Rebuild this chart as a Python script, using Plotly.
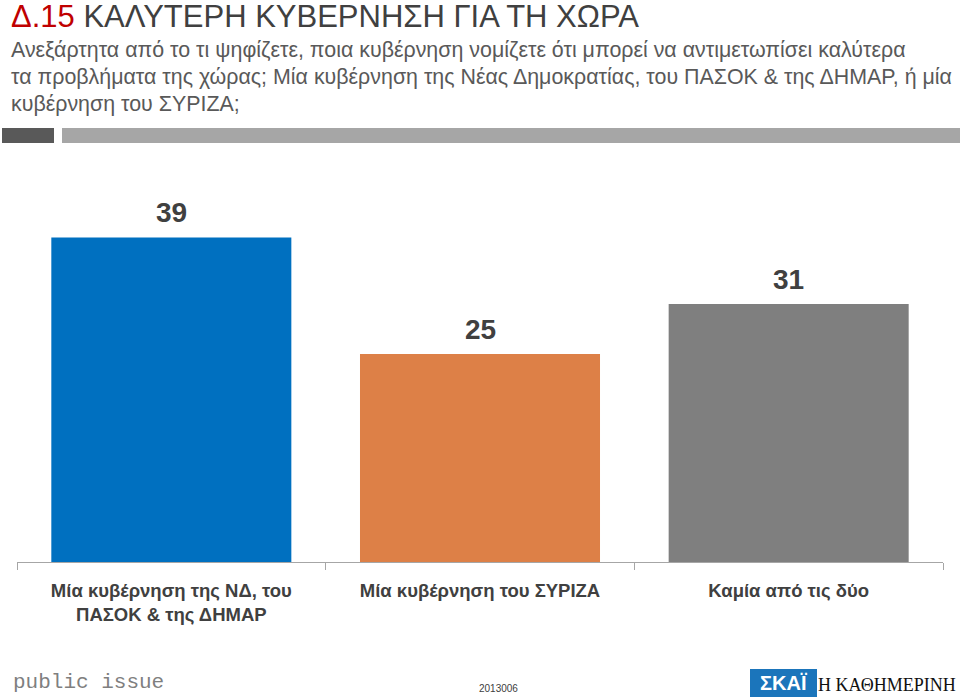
import plotly.graph_objects as go

categories = ["Μία κυβέρνηση της ΝΔ, του<br>ΠΑΣΟΚ & της ΔΗΜΑΡ", "Μία κυβέρνηση του ΣΥΡΙΖΑ", "Καμία από τις δύο"]
values = [39, 25, 31]
colors = ["#0070C0", "#DD8047", "#7F7F7F"]

title_code = "Δ.15"
title_text = "ΚΑΛΥΤΕΡΗ ΚΥΒΕΡΝΗΣΗ ΓΙΑ ΤΗ ΧΩΡΑ"
subtitle_lines = [
    "Ανεξάρτητα από το τι ψηφίζετε, ποια κυβέρνηση νομίζετε ότι μπορεί να αντιμετωπίσει καλύτερα",
    "τα προβλήματα της χώρας; Μία κυβέρνηση της Νέας Δημοκρατίας, του ΠΑΣΟΚ & της ΔΗΜΑΡ, ή μία",
    "κυβέρνηση του ΣΥΡΙΖΑ;",
]
footer_left = "public issue"
footer_code = "2013006"

W, H = 960, 700
L, R, T, B = 17, 17, 180, 138
PW, PH = W - L - R, H - T - B
YMAX = PH / 8.32

def px(x):
    return (x - L) / PW

def py(y):
    return (H - B - y) / PH

FONT = "Liberation Sans, Arial, sans-serif"
TXT = "#404040"

fig = go.Figure()
fig.add_trace(go.Bar(
    x=categories, y=values, marker=dict(color=colors, line=dict(width=0)),
    cliponaxis=False, width=0.7776, hoverinfo="x+y",
))

annotations = []
for c, v in zip(categories, values):
    annotations.append(dict(
        x=c, y=v, xref="x", yref="y", xanchor="center", yanchor="middle", yshift=25,
        text=str(v), showarrow=False, font=dict(family=FONT, size=28, color=TXT, weight="bold"),
    ))
annotations.append(dict(
    x=px(9), y=py(16), xref="paper", yref="paper", xanchor="left", yanchor="middle",
    text=f"<span style='color:#C00000'>{title_code}</span> {title_text}",
    showarrow=False, font=dict(family=FONT, size=31, color=TXT),
))
for i, line in enumerate(subtitle_lines):
    annotations.append(dict(
        x=px(9), y=py(50 + 27 * i), xref="paper", yref="paper", xanchor="left", yanchor="middle",
        text=line, showarrow=False, font=dict(family=FONT, size=21.4, color="#595959"),
    ))
annotations.append(dict(
    x=px(11), y=py(682), xref="paper", yref="paper", xanchor="left", yanchor="middle",
    text=footer_left, showarrow=False,
    font=dict(family="Liberation Mono, DejaVu Sans Mono, monospace", size=21, color="#7F7F7F"),
))
annotations.append(dict(
    x=px(499), y=py(688), xref="paper", yref="paper", xanchor="center", yanchor="middle",
    text=footer_code, showarrow=False, font=dict(family=FONT, size=10, color=TXT),
))
annotations.append(dict(
    x=px(783), y=py(683), xref="paper", yref="paper", xanchor="center", yanchor="middle",
    text="<b>ΣΚΑΪ</b>", showarrow=False, font=dict(family=FONT, size=20, color="#FFFFFF"),
))
annotations.append(dict(
    x=px(958), y=py(685), xref="paper", yref="paper", xanchor="right", yanchor="middle",
    text="Η ΚΑΘΗΜΕΡΙΝΗ", showarrow=False, font=dict(family="Liberation Serif, serif", size=18, color="#111111"),
))

shapes = [
    dict(type="rect", xref="paper", yref="paper", x0=px(2), x1=px(54), y0=py(128), y1=py(143),
         fillcolor="#595959", line=dict(width=0)),
    dict(type="rect", xref="paper", yref="paper", x0=px(62), x1=px(960), y0=py(128), y1=py(143),
         fillcolor="#A6A6A6", line=dict(width=0)),
    dict(type="rect", xref="paper", yref="paper", x0=px(750), x1=px(817), y0=py(669), y1=py(697),
         fillcolor="#1B75BB", line=dict(width=0)),
]

fig.update_layout(
    width=W, height=H, margin=dict(l=L, r=R, t=T, b=B, pad=0),
    paper_bgcolor="white", plot_bgcolor="white", showlegend=False,
    annotations=annotations, shapes=shapes,
    xaxis=dict(range=[-0.5, 2.5], showline=True, linecolor="#A6A6A6", linewidth=1, ticks="outside",
               tickson="boundaries", ticklen=7, tickcolor="#A6A6A6", showgrid=False,
               ticklabelstandoff=12,
               tickfont=dict(family=FONT, size=18.5, color=TXT, weight="bold")),
    yaxis=dict(range=[0, YMAX], visible=False, showgrid=False, zeroline=False),
    font=dict(family=FONT),
)
fig.write_html("out.html", config={"displayModeBar": False},
               post_script="document.body.style.margin='0';")
